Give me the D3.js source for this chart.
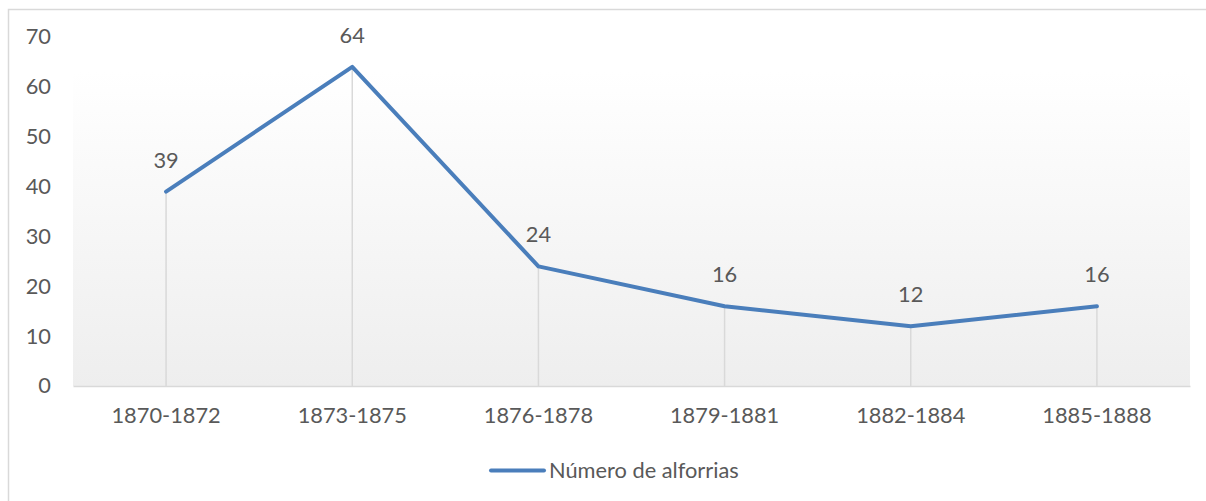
<!DOCTYPE html>
<html><head><meta charset="utf-8">
<script src="https://cdn.jsdelivr.net/npm/d3@7"></script>
<style>html,body{margin:0;padding:0;background:#fff;}svg{display:block;}</style>
</head><body>
<svg id="c" width="1206" height="501"></svg>
<script>
const categories = ["1870-1872","1873-1875","1876-1878","1879-1881","1882-1884","1885-1888"];
const values = [39, 64, 24, 16, 12, 16];
const yTicks = [0,10,20,30,40,50,60,70];
const seriesName = "Número de alforrias";

const svg = d3.select("#c");
const font = "Lato, 'Open Sans', sans-serif";
const fs = 21.8;
const textColor = "#595959";
const lineColor = "#4a7ebb";

// chart border
svg.append("rect").attr("x",8.5).attr("y",9.5).attr("width",1210).attr("height",500)
  .attr("fill","#fff").attr("stroke","#d9d9d9").attr("stroke-width",1.5);

const m = {left:73, right:1190, top:37, bottom:386};
const x = d3.scaleBand().domain(categories).range([m.left,m.right]).padding(0);
const y = d3.scaleLinear().domain([0,70]).range([m.bottom,m.top]);

const defs = svg.append("defs");
const g = defs.append("linearGradient").attr("id","bg").attr("x1",0).attr("y1",0).attr("x2",0).attr("y2",1);
g.append("stop").attr("offset","0").attr("stop-color","#ffffff");
g.append("stop").attr("offset","0.1").attr("stop-color","#ffffff");
g.append("stop").attr("offset","1").attr("stop-color","#eeeeee");
svg.append("rect").attr("x",m.left).attr("y",m.top).attr("width",m.right-m.left).attr("height",m.bottom-m.top)
  .attr("fill","url(#bg)");

// drop lines
svg.append("g").selectAll("line").data(values).join("line")
  .attr("x1",(d,i)=>x(categories[i])+x.bandwidth()/2)
  .attr("x2",(d,i)=>x(categories[i])+x.bandwidth()/2)
  .attr("y1",d=>y(d)).attr("y2",y(0))
  .attr("stroke","#d9d9d9").attr("stroke-width",1.5);

// x axis
const xAxis = svg.append("g").attr("transform",`translate(0,${y(0)})`)
  .call(d3.axisBottom(x).tickSize(0).tickPadding(22));
xAxis.select(".domain").attr("stroke","#d9d9d9").attr("stroke-width",1.5);
xAxis.selectAll("text").attr("font-family",font).attr("font-size",fs).attr("fill",textColor);

// y axis
const yAxis = svg.append("g").attr("transform",`translate(${m.left},0)`)
  .call(d3.axisLeft(y).tickValues(yTicks).tickSize(0).tickPadding(22));
yAxis.select(".domain").remove();
yAxis.selectAll("text").attr("font-family",font).attr("font-size",fs).attr("fill",textColor);

// line
const line = d3.line().x((d,i)=>x(categories[i])+x.bandwidth()/2).y(d=>y(d));
svg.append("path").datum(values).attr("d",line).attr("fill","none")
  .attr("stroke",lineColor).attr("stroke-width",4).attr("stroke-linejoin","round").attr("stroke-linecap","round");

// labels
svg.append("g").selectAll("text").data(values).join("text")
  .attr("x",(d,i)=>x(categories[i])+x.bandwidth()/2)
  .attr("y",d=>y(d)-24)
  .attr("text-anchor","middle").attr("font-family",font).attr("font-size",fs).attr("fill",textColor)
  .text(d=>d);

// legend
const lg = svg.append("g");
lg.append("line").attr("x1",491).attr("x2",544).attr("y1",470.5).attr("y2",470.5)
  .attr("stroke",lineColor).attr("stroke-width",4).attr("stroke-linecap","round");
lg.append("text").attr("x",549).attr("y",478).attr("font-family",font).attr("font-size",fs)
  .attr("fill",textColor).text(seriesName);
</script>
</body></html>
